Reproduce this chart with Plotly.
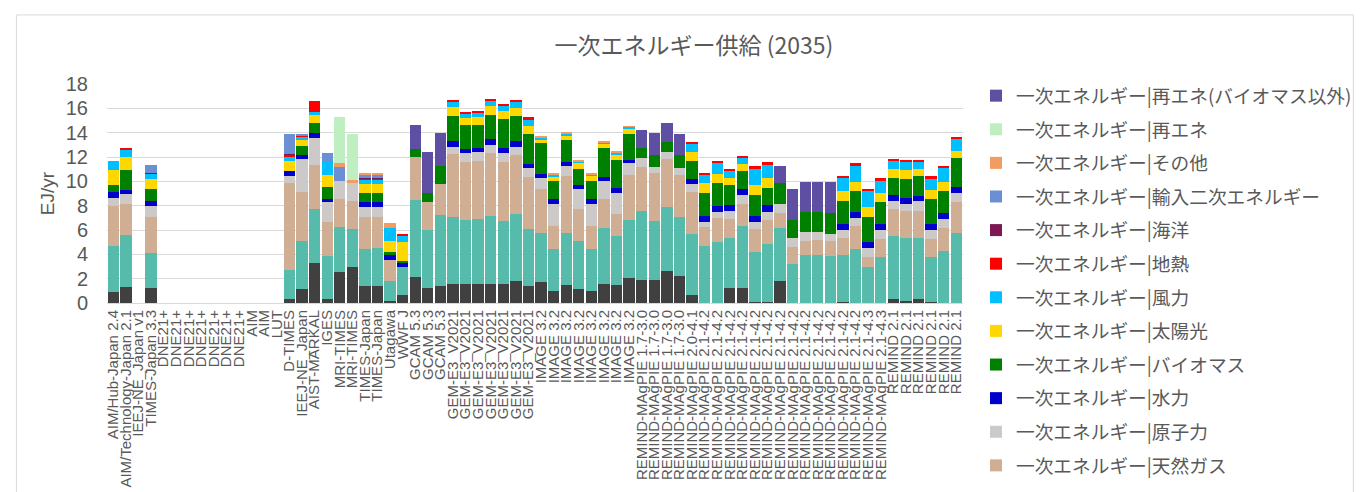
import plotly.graph_objects as go

categories = [
    "AIM/Hub-Japan 2.4", "AIM/Technology-Japan 2.1", "IEEJ-NE_Japan v1", "TIMES-Japan 3.3",
    "DNE21+", "DNE21+", "DNE21+", "DNE21+", "DNE21+", "DNE21+", "DNE21+",
    "AIM", "AIM", "LUT",
    "D-TIMES", "IEEJ-NE_Japan", "AIST-MARKAL", "IGES", "MRI-TIMES", "MRI-TIMES",
    "TIMES-Japan", "TIMES-Japan", "Utagawa", "WWF J",
    "GCAM 5.3", "GCAM 5.3", "GCAM 5.3",
    "GEM-E3_V2021", "GEM-E3_V2021", "GEM-E3_V2021", "GEM-E3_V2021", "GEM-E3_V2021", "GEM-E3_V2021", "GEM-E3_V2021",
    "IMAGE 3.2", "IMAGE 3.2", "IMAGE 3.2", "IMAGE 3.2", "IMAGE 3.2", "IMAGE 3.2", "IMAGE 3.2", "IMAGE 3.2",
    "REMIND-MAgPIE 1.7-3.0", "REMIND-MAgPIE 1.7-3.0", "REMIND-MAgPIE 1.7-3.0", "REMIND-MAgPIE 1.7-3.0",
    "REMIND-MAgPIE 2.0-4.1",
    "REMIND-MAgPIE 2.1-4.2", "REMIND-MAgPIE 2.1-4.2", "REMIND-MAgPIE 2.1-4.2", "REMIND-MAgPIE 2.1-4.2",
    "REMIND-MAgPIE 2.1-4.2", "REMIND-MAgPIE 2.1-4.2", "REMIND-MAgPIE 2.1-4.2", "REMIND-MAgPIE 2.1-4.2",
    "REMIND-MAgPIE 2.1-4.2", "REMIND-MAgPIE 2.1-4.2", "REMIND-MAgPIE 2.1-4.2", "REMIND-MAgPIE 2.1-4.2",
    "REMIND-MAgPIE 2.1-4.2",
    "REMIND-MAgPIE 2.1-4.3", "REMIND-MAgPIE 2.1-4.3",
    "REMIND 2.1", "REMIND 2.1", "REMIND 2.1", "REMIND 2.1", "REMIND 2.1", "REMIND 2.1",
]

# EJ/yr, one value per category (order as above)
coal = [0.9, 1.33, 0, 1.25,
        0, 0, 0, 0, 0, 0, 0, 0, 0, 0,
        0.32, 1.12, 3.25, 0.32, 2.56, 2.96, 1.41, 1.41, 0.19, 0.64,
        2.11, 1.25, 1.39,
        1.6, 1.6, 1.6, 1.6, 1.55, 1.81, 1.39,
        1.73, 0.96, 1.49, 1.17, 0.99, 1.57, 1.49, 2.05,
        1.92, 1.92, 2.61, 2.19,
        0.64,
        0, 0, 1.25, 1.25, 0.05, 0.05, 1.81, 0, 0, 0, 0, 0.08, 0,
        0, 0,
        0.35, 0.16, 0.29, 0.08, 0, 0]
oil = [3.75, 4.3, 0, 2.83,
       0, 0, 0, 0, 0, 0, 0, 0, 0, 0,
       2.4, 3.95, 4.51, 3.52, 3.71, 3.09, 3.02, 3.09, 1.62, 2.32,
       6.34, 4.72, 5.86,
       5.49, 5.23, 5.31, 5.57, 5.22, 5.52, 4.66,
       4.03, 3.49, 4.27, 3.92, 3.46, 4.62, 4.0, 4.75,
       5.63, 4.85, 5.28, 4.85,
       5.07,
       4.69, 4.99, 4.08, 5.07, 4.16, 4.8, 4.38, 3.23, 3.95, 3.95, 3.87, 3.87, 4.45,
       2.96, 3.81,
       5.14, 5.2, 5.07, 3.73, 4.24, 5.76]
gas = [3.35, 2.47, 0, 3.0,
       0, 0, 0, 0, 0, 0, 0, 0, 0, 0,
       7.15, 4.08, 3.57, 2.8, 2.26, 2.35, 2.61, 2.54, 1.76, 0,
       3.58, 2.3, 2.51,
       5.15, 4.77, 4.74, 5.12, 4.83, 4.83, 4.27,
       3.65, 1.87, 4.67, 2.67, 1.9, 2.34, 1.82, 3.71,
       3.65, 3.95, 3.95, 3.52,
       3.38,
       1.52, 1.97, 1.55, 1.84, 1.84, 1.98, 1.22, 1.41, 1.17, 1.22, 1.2, 1.41, 1.87,
       0.85, 1.47,
       2.27, 2.19, 2.24, 1.47, 1.95, 2.53]
nuclear = [0.65, 0.83, 0, 0.86,
           0, 0, 0, 0, 0, 0, 0, 0, 0, 0,
           0.53, 2.66, 2.27, 1.68, 1.52, 1.52, 0.83, 0.83, 0, 0,
           0, 0, 0,
           0.61, 0.69, 0.75, 0.72, 0.72, 0.69, 0.75,
           0.83, 1.84, 0.82, 1.6, 1.81, 1.47, 1.76, 0.96,
           0.69, 0.48, 0.56, 0.56,
           0.67,
           0.46, 0.56, 0.72, 0.69, 0.62, 0.69, 0.7, 0.69, 0.69, 0.7, 0.61, 0.64, 0.69,
           0.7, 0.69,
           0.61, 0.61, 0.77, 0.72, 0.69, 0.78]
hydro = [0.45, 0.32, 0, 0.45,
         0, 0, 0, 0, 0, 0, 0, 0, 0, 0,
         0.43, 0.38, 0.35, 0.21, 0, 0, 0.45, 0.45, 0.4, 0.37,
         0, 0, 0,
         0.46, 0.38, 0.35, 0.43, 0.43, 0.48, 0.34,
         0.37, 0.37, 0.32, 0.37, 0.37, 0.37, 0.37, 0.32,
         0, 0, 0, 0,
         0.45,
         0.45, 0.48, 0.48, 0.51, 0.5, 0.51, 0, 0, 0, 0, 0, 0.48, 0.46,
         0.5, 0.51,
         0.51, 0.48, 0.43, 0.48, 0.51, 0.48]
biomass = [0.6, 1.71, 0, 0.96,
           0, 0, 0, 0, 0, 0, 0, 0, 0, 0,
           0, 0.74, 0.82, 0.99, 0, 0, 0.69, 0.69, 0.22, 0.16,
           0.64, 0.77, 1.49,
           2.1, 1.97, 1.89, 2.05, 2.37, 2.08, 2.46,
           2.51, 1.47, 1.82, 1.26, 1.52, 2.38, 2.35, 2.13,
           0.88, 0.99, 0.85, 1.07,
           1.47,
           1.95, 1.87, 1.63, 1.47, 1.68, 1.46, 1.78, 1.5, 1.66, 1.6, 1.73, 1.89, 1.7,
           2.08, 1.84,
           1.39, 1.55, 1.63, 2.03, 1.81, 2.34]
solar = [1.25, 1.01, 0, 0.83,
         0, 0, 0, 0, 0, 0, 0, 0, 0, 0,
         0.82, 0.43, 0.67, 0.99, 0, 0, 0.75, 0.75, 0.93, 1.52,
         0, 0, 0,
         0.7, 0.53, 0.64, 0.72, 0.67, 0.64, 0.69,
         0.27, 0.4, 0.37, 0.48, 0.4, 0.37, 0.4, 0.43,
         0, 0, 0, 0,
         0.72,
         0.8, 0.77, 0.56, 0.56, 0.86, 0.78, 0, 0, 0, 0, 0, 0.8, 0.8,
         0.83, 0.75,
         0.72, 0.74, 0.61, 0.74, 0.77, 0.64]
wind = [0.65, 0.64, 0, 0.45,
        0, 0, 0, 0, 0, 0, 0, 0, 0, 0,
        0.43, 0.29, 0.27, 1.17, 0, 0, 0.43, 0.43, 1.01, 0.51,
        0, 0, 0,
        0.42, 0.43, 0.4, 0.4, 0.48, 0.48, 0.56,
        0.18, 0.13, 0.16, 0.18, 0.14, 0.11, 0.16, 0.13,
        0, 0, 0, 0,
        0.67,
        0.69, 0.91, 0.61, 0.53, 1.33, 1.14, 0, 0, 0, 0, 0, 1.12, 1.28,
        1.31, 0.98,
        0.74, 0.72, 0.61, 1.02, 1.15, 0.96]
geothermal = [0, 0.1, 0, 0.05,
              0, 0, 0, 0, 0, 0, 0, 0, 0, 0,
              0.1, 0.08, 0.88, 0, 0, 0, 0.08, 0.08, 0, 0.11,
              0, 0, 0,
              0.08, 0.13, 0.11, 0.08, 0.1, 0.08, 0.13,
              0, 0, 0, 0, 0, 0, 0, 0,
              0, 0, 0, 0,
              0.1,
              0.11, 0.13, 0.13, 0.11, 0.21, 0.14, 0, 0, 0, 0, 0, 0.16, 0.22,
              0.18, 0.24,
              0.08, 0.08, 0.08, 0.13, 0.13, 0.11]
ocean = [0, 0, 0, 0.04,
         0, 0, 0, 0, 0, 0, 0, 0, 0, 0,
         0.04, 0, 0, 0, 0, 0, 0.03, 0.03, 0, 0,
         0, 0, 0,
         0, 0, 0, 0, 0, 0, 0,
         0, 0, 0, 0, 0, 0, 0, 0,
         0, 0, 0, 0,
         0,
         0, 0, 0, 0, 0, 0, 0, 0, 0, 0, 0, 0, 0,
         0, 0,
         0, 0, 0, 0, 0, 0]
imports = [0.05, 0, 0, 0.6,
           0, 0, 0, 0, 0, 0, 0, 0, 0, 0,
           1.63, 0.1, 0, 0.69, 1.15, 0, 0.24, 0.24, 0, 0,
           0, 0, 0,
           0, 0, 0, 0, 0, 0, 0,
           0, 0, 0, 0, 0, 0, 0, 0,
           0, 0, 0, 0,
           0,
           0, 0, 0, 0, 0, 0, 0, 0, 0, 0, 0, 0, 0,
           0, 0,
           0, 0, 0, 0, 0, 0]
other = [0, 0, 0, 0,
         0, 0, 0, 0, 0, 0, 0, 0, 0, 0,
         0, 0, 0, 0, 0.29, 0.16, 0.18, 0.16, 0.46, 0,
         0, 0, 0,
         0, 0, 0, 0, 0, 0, 0,
         0.08, 0.08, 0.08, 0.08, 0.08, 0.1, 0.08, 0.05,
         0, 0, 0, 0,
         0,
         0, 0, 0, 0, 0, 0, 0, 0, 0, 0, 0, 0, 0,
         0, 0,
         0, 0, 0, 0, 0, 0]
renewables = [0, 0, 0, 0,
              0, 0, 0, 0, 0, 0, 0, 0, 0, 0,
              0, 0, 0, 0, 3.79, 3.81, 0, 0, 0, 0,
              0, 0, 0,
              0, 0, 0, 0, 0, 0, 0,
              0, 0, 0, 0, 0, 0, 0, 0,
              0, 0, 0, 0,
              0,
              0, 0, 0, 0, 0, 0, 0, 0, 0, 0, 0, 0, 0,
              0, 0,
              0, 0, 0, 0, 0, 0]
renewables_nonbio = [0, 0, 0, 0,
                     0, 0, 0, 0, 0, 0, 0, 0, 0, 0,
                     0, 0, 0, 0, 0, 0, 0, 0, 0, 0,
                     1.92, 3.41, 2.7,
                     0, 0, 0, 0, 0, 0, 0,
                     0, 0, 0, 0, 0, 0, 0, 0,
                     1.42, 1.76, 1.52, 1.68,
                     0,
                     0, 0, 0, 0, 0, 0, 1.36, 2.53, 2.5, 2.45, 2.51, 0, 0,
                     0, 0,
                     0, 0, 0, 0, 0, 0]

series = [
    ("一次エネルギー|石炭", coal, "#404040", False),
    ("一次エネルギー|石油", oil, "#57BBAB", False),
    ("一次エネルギー|天然ガス", gas, "#CFAE93", True),
    ("一次エネルギー|原子力", nuclear, "#CCC9C8", True),
    ("一次エネルギー|水力", hydro, "#0000CC", True),
    ("一次エネルギー|バイオマス", biomass, "#008000", True),
    ("一次エネルギー|太陽光", solar, "#FFD700", True),
    ("一次エネルギー|風力", wind, "#00BFFF", True),
    ("一次エネルギー|地熱", geothermal, "#FF0000", True),
    ("一次エネルギー|海洋", ocean, "#7F1755", True),
    ("一次エネルギー|輸入二次エネルギー", imports, "#6B8FD4", True),
    ("一次エネルギー|その他", other, "#F29C62", True),
    ("一次エネルギー|再エネ", renewables, "#BFEFC0", True),
    ("一次エネルギー|再エネ(バイオマス以外)", renewables_nonbio, "#5E4FA2", True),
]

for _, vals, _, _ in series:
    assert len(vals) == len(categories)

x_idx = list(range(len(categories)))
GRAY = "#595959"
JP = "Noto Sans CJK JP, Liberation Sans, sans-serif"
LAT = "Liberation Sans, Arial, sans-serif"

fig = go.Figure()
for i, (name, vals, color, show) in enumerate(series):
    fig.add_trace(go.Bar(
        x=x_idx, y=vals, name=name, legendgroup=name,
        legendrank=1000 - i,
        marker=dict(color=color, line=dict(width=0)),
        showlegend=show,
        customdata=categories,
        hovertemplate="%{customdata}<br>%{y} EJ/yr<extra>" + name + "</extra>",
    ))

W, H = 1372, 492
L, R, T, B = 99, 404, 76, 191
fig.update_layout(
    width=W, height=H,
    margin=dict(l=L, r=R, t=T, b=B),
    barmode="stack", bargap=0.1,
    paper_bgcolor="white", plot_bgcolor="white",
    font=dict(family=JP, color=GRAY),
    title=dict(text="一次エネルギー供給 (2035)", x=0.5, xref="container", xanchor="center",
               y=1 - 38 / H, yref="container", yanchor="middle",
               font=dict(size=23, color=GRAY, family=JP)),
    legend=dict(
        x=968 / W, xref="container", xanchor="left",
        y=1 - 69 / H, yref="container", yanchor="top",
        traceorder="grouped", tracegroupgap=6.3,
        maxheight=440,
        font=dict(size=18.7, color=GRAY, family=JP),
        bgcolor="rgba(0,0,0,0)",
    ),
    xaxis=dict(
        tickmode="array", tickvals=x_idx, ticktext=categories,
        tickangle=-90, range=[-0.5, len(categories) - 0.5],
        tickfont=dict(size=15, color=GRAY, family=LAT),
        showgrid=False, showline=True, linecolor="#D9D9D9", linewidth=1,
        ticks="", zeroline=False,
    ),
    yaxis=dict(
        range=[0, 18], dtick=2, tick0=0,
        gridcolor="#D9D9D9", gridwidth=1,
        zeroline=False, showline=False,
        ticks="outside", ticklen=14, tickcolor="rgba(0,0,0,0)",
        tickfont=dict(size=20, color=GRAY, family=LAT),
        title=dict(text="EJ/yr", font=dict(size=19, color=GRAY, family=LAT), standoff=6),
    ),
    shapes=[dict(
        type="rect", xref="paper", yref="paper",
        x0=(7 - L) / (W - L - R), x1=(1365 - L) / (W - L - R),
        y0=(H - B - 496) / (H - T - B), y1=(H - B - 5) / (H - T - B),
        line=dict(color="#D9D9D9", width=1), fillcolor="rgba(0,0,0,0)", layer="below",
    )],
)

fig.write_html("out.html")
